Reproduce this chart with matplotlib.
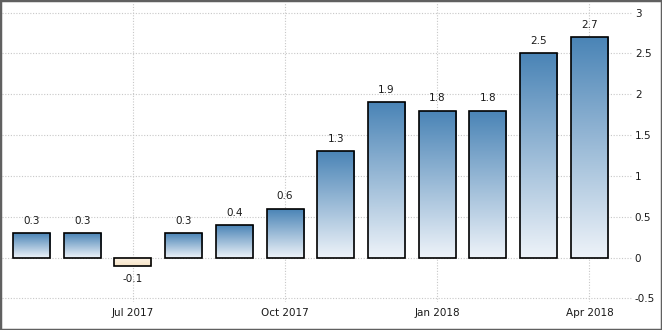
import numpy as np
import matplotlib
matplotlib.use("Agg")
import matplotlib.pyplot as plt
from matplotlib.colors import LinearSegmentedColormap
from matplotlib.patches import Rectangle

months = ["May 2017", "Jun 2017", "Jul 2017", "Aug 2017", "Sep 2017", "Oct 2017",
          "Nov 2017", "Dec 2017", "Jan 2018", "Feb 2018", "Mar 2018", "Apr 2018"]
values = [0.3, 0.3, -0.1, 0.3, 0.4, 0.6, 1.3, 1.9, 1.8, 1.8, 2.5, 2.7]
tick_idx = [2, 5, 8, 11]
tick_labels = ["Jul 2017", "Oct 2017", "Jan 2018", "Apr 2018"]
yticks = [-0.5, 0, 0.5, 1, 1.5, 2, 2.5, 3]
ytick_labels = ["-0.5", "0", "0.5", "1", "1.5", "2", "2.5", "3"]

W, H = 662, 330
fig = plt.figure(figsize=(W / 100, H / 100), dpi=100)
fig.patch.set_facecolor("white")

# axes in pixel coords: left 2, right 632, top 2, bottom 302
ax = fig.add_axes([2 / W, (H - 302) / H, 630 / W, 300 / H])
ax.set_facecolor("white")

bar_w = 0.73
x = np.arange(len(values))
pos_cmap = LinearSegmentedColormap.from_list("pos", ["#eef3f9", "#4a84b6"])
neg_cmap = LinearSegmentedColormap.from_list("neg", ["#f7e4c6", "#fdf4e8"])
grad = np.linspace(0, 1, 256).reshape(-1, 1)

for xi, v in zip(x, values):
    x0, x1 = xi - bar_w / 2, xi + bar_w / 2
    if v >= 0:
        ax.imshow(grad, cmap=pos_cmap, aspect="auto", origin="lower",
                  extent=[x0, x1, 0, v], zorder=2, interpolation="bilinear")
        ax.text(xi, v + 0.09, f"{v:g}", ha="center", va="bottom", fontsize=7.5,
                color="#1a1a1a", zorder=4)
    else:
        ax.imshow(grad, cmap=neg_cmap, aspect="auto", origin="lower",
                  extent=[x0, x1, v, 0], zorder=2, interpolation="bilinear")
        ax.text(xi, v - 0.1, f"{v:g}", ha="center", va="top", fontsize=7.5,
                color="#1a1a1a", zorder=4)
    ax.add_patch(Rectangle((x0, min(0, v)), bar_w, abs(v), fill=False,
                           edgecolor="black", linewidth=1.2, zorder=3))

ax.set_xlim(-0.58, 11.84)
ax.set_ylim(-0.545, 3.13)

ax.set_xticks(tick_idx)
ax.set_xticklabels(tick_labels, fontsize=7.5, color="#1a1a1a")
ax.set_yticks(yticks)
ax.set_yticklabels(ytick_labels, fontsize=7.5, color="#1a1a1a")
ax.yaxis.tick_right()
ax.tick_params(axis="both", length=0)
ax.tick_params(axis="x", pad=4)
ax.tick_params(axis="y", pad=2)
for lab in ax.get_yticklabels():
    lab.set_horizontalalignment("left")

ax.grid(True, color="#c8c8c8", linestyle=(0, (1, 1.5)), linewidth=0.8, zorder=0)
ax.set_axisbelow(True)
for s in ax.spines.values():
    s.set_visible(False)

# outer frame
fig.add_artist(Rectangle((0, 0), 1, 1, transform=fig.transFigure, fill=False,
                         edgecolor="#606060", linewidth=2.5))

fig.savefig("out.png", dpi=100, facecolor="white")
